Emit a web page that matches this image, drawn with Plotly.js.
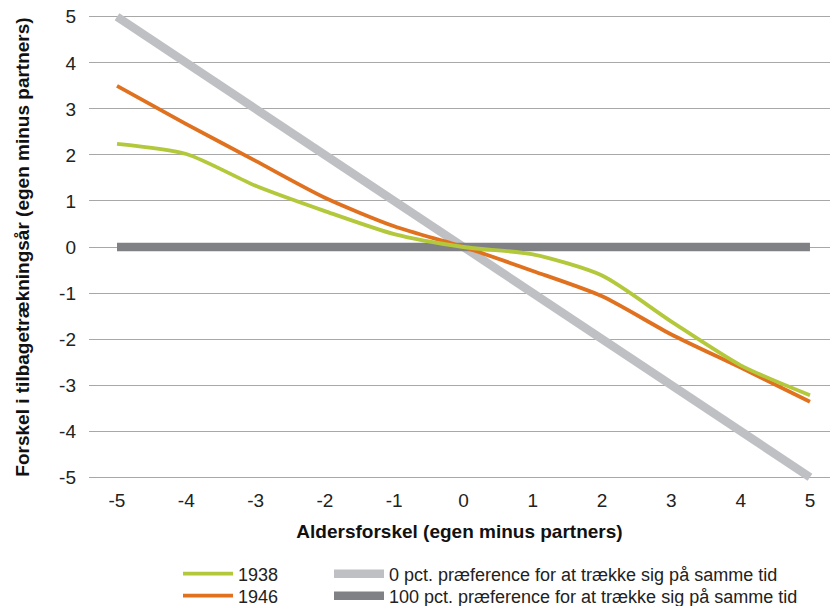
<!DOCTYPE html>
<html>
<head>
<meta charset="utf-8">
<script src="https://cdn.plot.ly/plotly-3.0.1.min.js"></script>
<style>html,body{margin:0;padding:0;background:#fff;}#chart{width:830px;height:606px;}</style>
</head>
<body>
<div id="chart"></div>
<script>
const ageDiff = [-5, -4, -3, -2, -1, 0, 1, 2, 3, 4, 5];
const s1938 = [2.24, 2.02, 1.33, 0.78, 0.28, 0.0, -0.16, -0.62, -1.62, -2.57, -3.22];
const s1946 = [3.5, 2.67, 1.87, 1.07, 0.45, 0.0, -0.52, -1.07, -1.9, -2.62, -3.36];
const pref0 = [5, 4, 3, 2, 1, 0, -1, -2, -3, -4, -5];
const pref100 = [0, 0, 0, 0, 0, 0, 0, 0, 0, 0, 0];
const yTicks = [5, 4, 3, 2, 1, 0, -1, -2, -3, -4, -5];

const font = "Liberation Sans, Arial, sans-serif";
const traces = [
  {x: ageDiff, y: pref0, mode: 'lines', name: '0 pct. præference for at trække sig på samme tid',
   line: {color: '#bfc0c4', width: 8.5}, legend: 'legend3'},
  {x: ageDiff, y: pref100, mode: 'lines', name: '100 pct. præference for at trække sig på samme tid',
   line: {color: '#808185', width: 8.5}, legend: 'legend4'},
  {x: ageDiff, y: s1946, mode: 'lines', name: '1946', line: {color: '#e0711f', width: 3.8, shape: 'spline', smoothing: 0.7}, legend: 'legend2'},
  {x: ageDiff, y: s1938, mode: 'lines', name: '1938', line: {color: '#b4c83c', width: 3.8, shape: 'spline', smoothing: 0.7}, legend: 'legend'}
];

const plotLeft = 89, plotWidth = 741;
function leg(xpx, ypx, iw) {
  return {x: (xpx - plotLeft) / plotWidth, y: 1 - ypx / 606, xref: 'paper', yref: 'container', xanchor: 'left', yanchor: 'middle',
    orientation: 'v', font: {size: 18, color: '#222', family: font}, itemwidth: iw,
    bgcolor: 'rgba(0,0,0,0)', borderwidth: 0};
}
const L1 = leg(178, 574, 50), L2 = leg(178, 596, 50);
const L3 = leg(329, 574, 50), L4 = leg(329, 596, 50);

const layout = {
  width: 830, height: 606,
  margin: {l: 89, r: 0, t: 3, b: 115, autoexpand: false},
  paper_bgcolor: '#fff', plot_bgcolor: '#fff',
  font: {family: font, color: '#222', size: 19},
  showlegend: true,
  xaxis: {
    range: [-5.404, 5.289], tickvals: ageDiff, ticktext: ageDiff.map(String),
    showgrid: false, zeroline: false, showline: false, ticks: '',
    tickfont: {size: 19, color: '#222'}, ticklabelstandoff: -4,
    title: {text: 'Aldersforskel (egen minus partners)', font: {size: 19, color: '#111', family: font, weight: 'bold'}, standoff: 14}
  },
  yaxis: {
    range: [-5.3, 5.3], tickvals: yTicks, ticktext: yTicks.map(String),
    showgrid: true, gridcolor: '#a8a8a8', gridwidth: 1, zeroline: false, showline: false, ticks: '',
    tickfont: {size: 19, color: '#222'}, ticklabelstandoff: 12,
    title: {text: 'Forskel i tilbagetrækningsår (egen minus partners)', font: {size: 19, color: '#111', family: font, weight: 'bold'}, standoff: 24}
  },
  legend: L1, legend2: L2, legend3: L3, legend4: L4
};
Plotly.newPlot('chart', traces, layout, {displayModeBar: false, staticPlot: true});
</script>
</body>
</html>
